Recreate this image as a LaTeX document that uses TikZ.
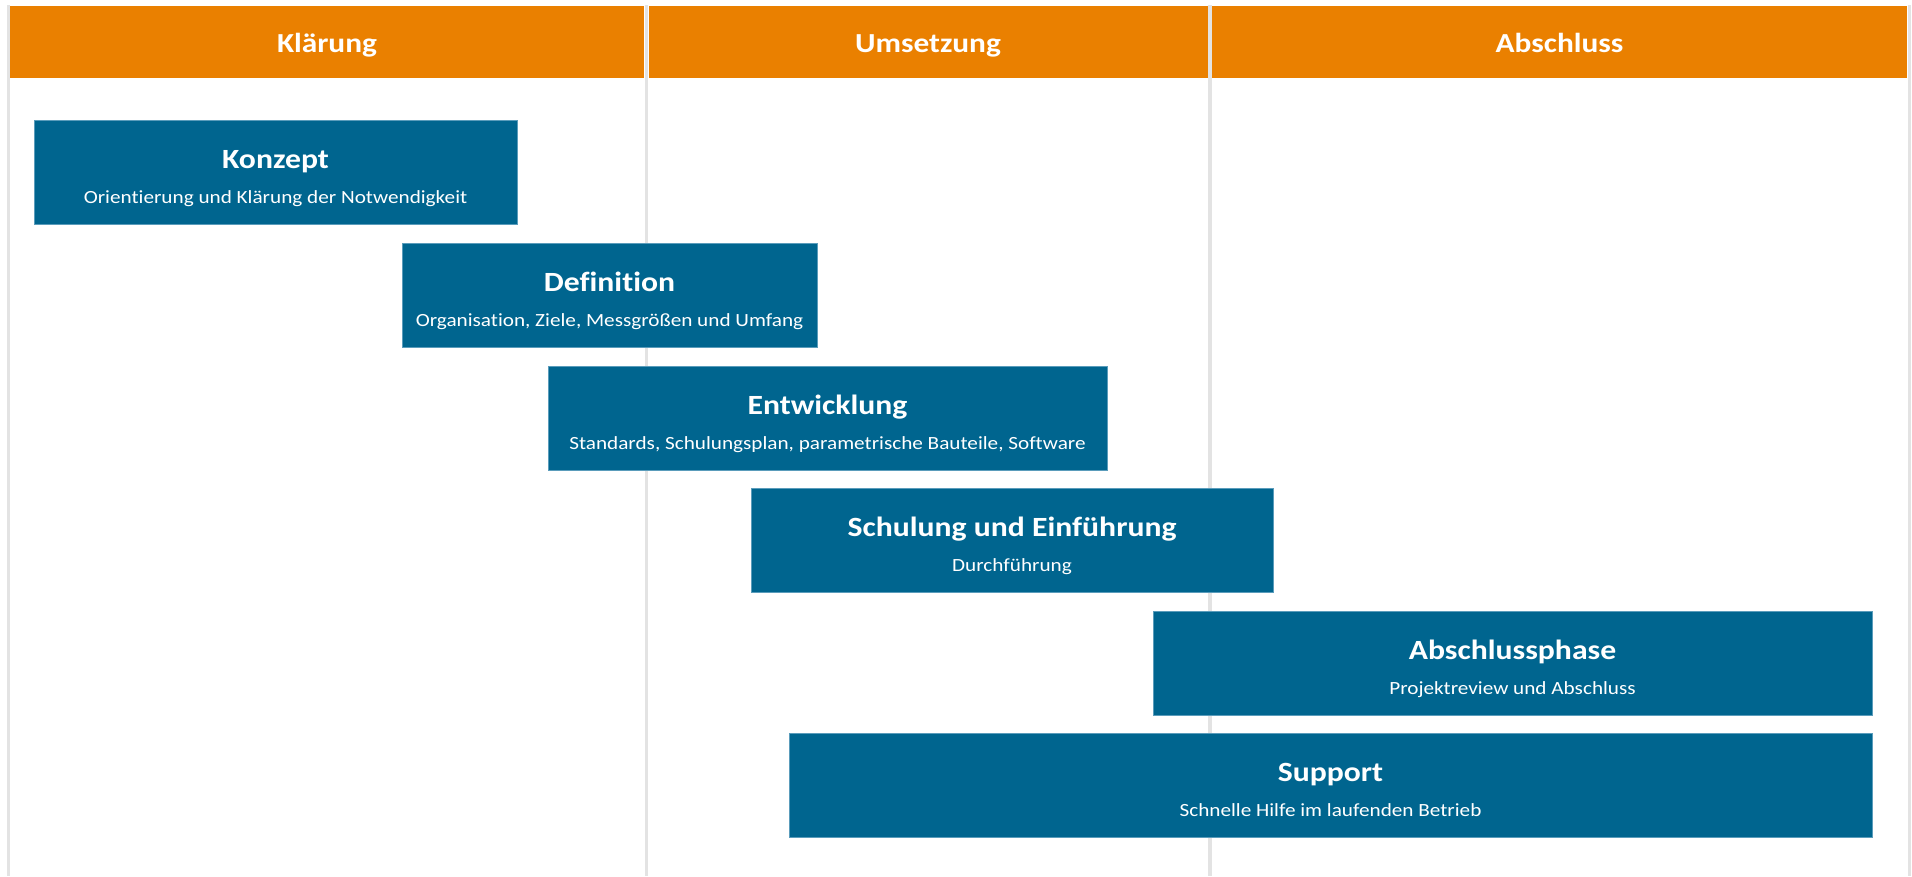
\documentclass[tikz,border=0pt]{standalone}
\usepackage{fontspec}
\setmainfont{Carlito}[FakeStretch=1.14, Ligatures=NoCommon]
\definecolor{hdrorange}{HTML}{EA8000}
\definecolor{phaseblue}{HTML}{00658F}
\definecolor{phaseedge}{HTML}{5A9CBB}
\definecolor{gridgrey}{HTML}{E3E3E3}
\tikzset{
  hdr/.style={fill=hdrorange, draw=none, inner sep=0pt, minimum height=72pt},
  hdrtext/.style={text=white, anchor=base, inner sep=0pt, font=\fontsize{27.5}{30}\selectfont\bfseries},
  phasebox/.style={fill=phaseblue, draw=phaseedge, line width=0.8pt, inner sep=0pt, minimum height=104pt},
  ttl/.style={text=white, anchor=base, inner sep=0pt, font=\fontsize{27.8}{30}\selectfont\bfseries},
  sub/.style={text=white, anchor=base, inner sep=0pt, font=\fontsize{18.6}{22}\selectfont},
  gridline/.style={draw=gridgrey, line width=3.5pt}
}
\begin{document}
\begin{tikzpicture}[x=1pt,y=-1pt]
\useasboundingbox (0,0) rectangle (1912,876);
% grid lines
\coordinate (g1t) at (8.5,5);  \coordinate (g1b) at (8.5,876);
\coordinate (g2t) at (646.5,5); \coordinate (g2b) at (646.5,876);
\coordinate (g3t) at (1210,5); \coordinate (g3b) at (1210,876);
\coordinate (g4t) at (1909.5,5); \coordinate (g4b) at (1909.5,876);
\draw[gridline] (g1t) -- (g1b);
\draw[gridline] (g2t) -- (g2b);
\draw[gridline] (g3t) -- (g3b);
\draw[gridline] (g4t) -- (g4b);
% header
\node[hdr, minimum width=634pt] (h1) at (327,42) {};
\node[hdr, minimum width=559pt] (h2) at (928,42) {};
\node[hdr, minimum width=695pt] (h3) at (1559.5,42) {};
\node[hdrtext] (h1t) at (327,52) {Klärung};
\node[hdrtext] (h2t) at (928,52) {Umsetzung};
\node[hdrtext] (h3t) at (1559.5,52) {Abschluss};
% phases
\node[phasebox, minimum width=483pt] (konzept) at (275.5,172) {};
\node[ttl] (konzeptT) at ([yshift=-49pt]konzept.north) {Konzept};
\node[sub] (konzeptS) at ([yshift=-84pt]konzept.north) {Orientierung und Klärung der Notwendigkeit};

\node[phasebox, minimum width=415pt] (definition) at (609.5,295) {};
\node[ttl] (definitionT) at ([yshift=-49pt]definition.north) {Definition};
\node[sub] (definitionS) at ([yshift=-84pt]definition.north) {Organisation, Ziele, Messgrößen und Umfang};

\node[phasebox, minimum width=559pt] (entwicklung) at (827.5,418) {};
\node[ttl] (entwicklungT) at ([yshift=-49pt]entwicklung.north) {Entwicklung};
\node[sub] (entwicklungS) at ([yshift=-84pt]entwicklung.north) {Standards, Schulungsplan, parametrische Bauteile, Software};

\node[phasebox, minimum width=522pt] (schulung) at (1012,540) {};
\node[ttl] (schulungT) at ([yshift=-49pt]schulung.north) {Schulung und Einführung};
\node[sub] (schulungS) at ([yshift=-84pt]schulung.north) {Durchführung};

\node[phasebox, minimum width=719pt] (abschluss) at (1512.5,663) {};
\node[ttl] (abschlussT) at ([yshift=-49pt]abschluss.north) {Abschlussphase};
\node[sub] (abschlussS) at ([yshift=-84pt]abschluss.north) {Projektreview und Abschluss};

\node[phasebox, minimum width=1083pt] (support) at (1330.5,785) {};
\node[ttl] (supportT) at ([yshift=-49pt]support.north) {Support};
\node[sub] (supportS) at ([yshift=-84pt]support.north) {Schnelle Hilfe im laufenden Betrieb};
\end{tikzpicture}
\end{document}
